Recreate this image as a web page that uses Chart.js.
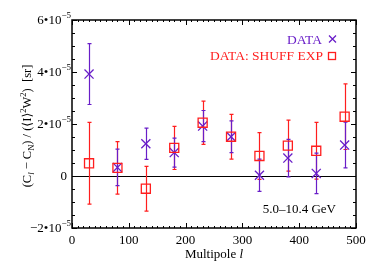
<!DOCTYPE html>
<html lang="en">
<head>
<meta charset="UTF-8">
<title>Multipole spectrum</title>
<script src="https://cdn.jsdelivr.net/npm/chart.js"></script>
<style>
  html, body { margin: 0; padding: 0; background: #fff; }
  #wrap { width: 374px; height: 267px; }
</style>
</head>
<body>
<div id="wrap"><canvas id="c" width="374" height="267"></canvas></div>
<script>
// multipole bins
const multipoles = [30, 80, 130, 180, 230, 280, 330, 380, 430, 480];

// DATA (purple crosses), units of 1e-5 sr
const dataVals = [3.92, 0.33, 1.24, 0.90, 1.92, 1.51, 0.03, 0.69, 0.10, 1.19];
const dataErr  = [1.17, 0.70, 0.60, 0.56, 0.60, 0.61, 0.62, 0.72, 0.78, 0.88];

// DATA: SHUFF EXP (red squares)
const shuffVals = [0.49, 0.31, -0.49, 1.08, 2.05, 1.51, 0.77, 1.17, 0.97, 2.28];
const shuffErr  = [1.57, 1.01, 0.86, 0.83, 0.83, 0.86, 0.90, 0.98, 1.09, 1.26];

const xTicks = [0, 100, 200, 300, 400, 500];
const yTicks = [-2, 0, 2, 4, 6];

const purple = 'rgb(105,30,200)';
const red = 'rgb(255,30,30)';
const serif = '"Liberation Serif", "DejaVu Serif", serif';

const toPts = (xs, ys) => xs.map((x, i) => ({ x: x, y: ys[i] * 1e-5 }));

// error bars, inward ticks, frame, labels
const extras = {
  id: 'extras',
  beforeDatasetsDraw(chart) {
    const ctx = chart.ctx, xs = chart.scales.x, ys = chart.scales.y;
    const a = chart.chartArea;
    ctx.save();
    // zero line
    ctx.strokeStyle = '#000';
    ctx.lineWidth = 1.2;
    ctx.beginPath();
    const y0 = Math.round(ys.getPixelForValue(0)) + 0.5;
    ctx.moveTo(a.left, y0); ctx.lineTo(a.right, y0);
    ctx.stroke();

    // error bars
    const sets = [[shuffVals, shuffErr, red], [dataVals, dataErr, purple]];
    sets.forEach(([vals, errs, col]) => {
      ctx.strokeStyle = col;
      ctx.lineWidth = 1.2;
      multipoles.forEach((m, i) => {
        const px = Math.round(xs.getPixelForValue(m)) + 0.5;
        const top = ys.getPixelForValue((vals[i] + errs[i]) * 1e-5);
        const bot = ys.getPixelForValue((vals[i] - errs[i]) * 1e-5);
        ctx.beginPath();
        ctx.moveTo(px, top); ctx.lineTo(px, bot);
        ctx.moveTo(px - 2, top); ctx.lineTo(px + 2, top);
        ctx.moveTo(px - 2, bot); ctx.lineTo(px + 2, bot);
        ctx.stroke();
      });
    });
    ctx.restore();
  },
  afterDraw(chart) {
    const ctx = chart.ctx, xs = chart.scales.x, ys = chart.scales.y;
    const a = chart.chartArea;
    ctx.save();
    ctx.strokeStyle = '#000';
    // frame
    ctx.lineWidth = 1.5;
    ctx.strokeRect(Math.round(a.left), Math.round(a.top),
      Math.round(a.right - a.left), Math.round(a.bottom - a.top));

    // x ticks (major 100, minor 10), inward on bottom and top
    ctx.lineWidth = 1;
    ctx.beginPath();
    for (let v = 0; v <= 500; v += 10) {
      const px = Math.round(xs.getPixelForValue(v)) + 0.5;
      const len = v % 100 === 0 ? 5 : 2;
      ctx.moveTo(px, a.bottom); ctx.lineTo(px, a.bottom - len);
      ctx.moveTo(px, a.top); ctx.lineTo(px, a.top + len);
    }
    // y ticks (major 2e-5, minor 0.5e-5), inward left and right
    for (let v = -2; v <= 6.001; v += 0.5) {
      const py = Math.round(ys.getPixelForValue(v * 1e-5)) + 0.5;
      const len = Math.abs(v % 2) < 1e-6 ? 5 : 3;
      ctx.moveTo(a.left, py); ctx.lineTo(a.left + len, py);
      ctx.moveTo(a.right, py); ctx.lineTo(a.right - len, py);
    }
    ctx.stroke();

    // y tick labels  n•10^-5
    ctx.fillStyle = '#000';
    ctx.textBaseline = 'middle';
    yTicks.forEach(v => {
      const py = ys.getPixelForValue(v * 1e-5);
      if (v === 0) {
        ctx.font = '13px ' + serif;
        ctx.textAlign = 'right';
        ctx.fillText('0', a.left - 5, py + 1);
        return;
      }
      ctx.font = '9px ' + serif;
      ctx.textAlign = 'right';
      ctx.fillText('\u22125', a.left - 1, py - 4);
      const sw = ctx.measureText('\u22125').width;
      ctx.font = '13px ' + serif;
      ctx.fillText((v < 0 ? '\u2212' + Math.abs(v) : v) + '\u202210', a.left - 1 - sw, py + 1);
    });

    // x axis title
    ctx.textAlign = 'left';
    ctx.textBaseline = 'alphabetic';
    ctx.font = 'italic 13px ' + serif;
    const wl = ctx.measureText('l').width;
    ctx.font = '13px ' + serif;
    const t1 = 'Multipole ';
    const w1 = ctx.measureText(t1).width;
    const cx = (a.left + a.right) / 2;
    const sx = cx - (w1 + wl) / 2;
    ctx.fillText(t1, sx, 258);
    ctx.font = 'italic 13px ' + serif;
    ctx.fillText('l', sx + w1, 258);

    // y axis title, rotated, with sub/superscripts
    const parts = [
      ['(C', 0, ''], ['l', 3, 'italic '], [' \u2212 C', 0, ''], ['N', 3, ''],
      [') / (\u27e8I\u27e9', 0, ''], ['2', -5, ''], ['W', 0, ''], ['2', -5, ''],
      [')  [sr]', 0, '']
    ];
    const sizeOf = p => (p[1] !== 0 ? 8.5 : 12.5);
    let total = 0;
    parts.forEach(p => { ctx.font = p[2] + sizeOf(p) + 'px ' + serif; total += ctx.measureText(p[0]).width; });
    ctx.translate(27, 126);
    ctx.rotate(-Math.PI / 2);
    let ox = -total / 2;
    parts.forEach(p => {
      ctx.font = p[2] + sizeOf(p) + 'px ' + serif;
      ctx.fillText(p[0], ox, 4 + p[1]);
      ox += ctx.measureText(p[0]).width;
    });
    ctx.setTransform(1, 0, 0, 1, 0, 0);

    // legend (text right aligned, symbol after)
    ctx.font = '13.5px ' + serif;
    ctx.textAlign = 'right';
    ctx.textBaseline = 'middle';
    ctx.fillStyle = purple;
    ctx.fillText('DATA', 322, 40);
    ctx.fillStyle = red;
    ctx.fillText('DATA: SHUFF EXP', 323, 56);
    ctx.lineWidth = 1.3;
    ctx.strokeStyle = purple;
    ctx.beginPath();
    ctx.moveTo(329, 35.5); ctx.lineTo(336, 42.5);
    ctx.moveTo(336, 35.5); ctx.lineTo(329, 42.5);
    ctx.stroke();
    ctx.strokeStyle = red;
    ctx.strokeRect(328.5, 52.5, 7, 7);

    // energy band label
    ctx.fillStyle = '#000';
    ctx.font = '13px ' + serif;
    ctx.textAlign = 'right';
    ctx.fillText('5.0\u201310.4 GeV', 336, 210);
    ctx.restore();
  }
};

new Chart(document.getElementById('c'), {
  type: 'scatter',
  data: {
    datasets: [
      {
        label: 'DATA: SHUFF EXP',
        data: toPts(multipoles, shuffVals),
        pointStyle: 'rect',
        radius: 6.4,
        borderColor: red,
        backgroundColor: 'rgba(0,0,0,0)',
        borderWidth: 1.3
      },
      {
        label: 'DATA',
        data: toPts(multipoles, dataVals),
        pointStyle: 'crossRot',
        radius: 6.4,
        borderColor: purple,
        backgroundColor: purple,
        borderWidth: 1.3
      }
    ]
  },
  options: {
    responsive: false,
    animation: false,
    layout: { padding: { top: 20, right: 18, left: 0, bottom: 0 } },
    plugins: { legend: { display: false }, tooltip: { enabled: false } },
    scales: {
      x: {
        type: 'linear', min: 0, max: 500,
        afterBuildTicks: s => { s.ticks = xTicks.map(v => ({ value: v })); },
        afterFit: s => { s.height = 39; },
        grid: { display: false, drawTicks: false },
        border: { display: false },
        ticks: { color: '#000', font: { family: serif, size: 13 }, padding: 5, maxRotation: 0 }
      },
      y: {
        type: 'linear', min: -2e-5, max: 6e-5,
        afterBuildTicks: s => { s.ticks = yTicks.map(v => ({ value: v * 1e-5 })); },
        afterFit: s => { s.width = 72; },
        grid: { display: false },
        border: { display: false },
        ticks: { display: false }
      }
    }
  },
  plugins: [extras]
});
</script>
</body>
</html>
